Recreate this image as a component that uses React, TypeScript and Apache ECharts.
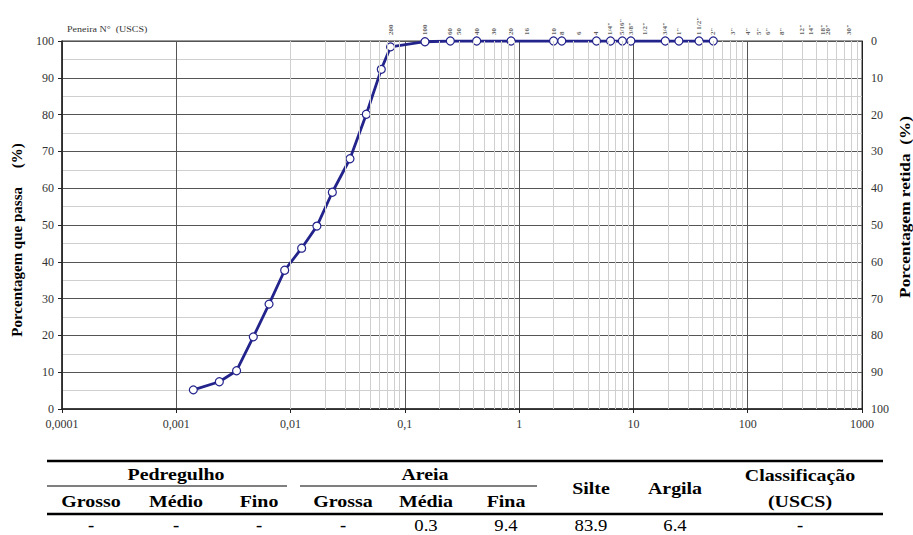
import React, { useEffect, useRef } from "react";
import * as echarts from "echarts";

// Grain-size curve (diameter in mm, % passing)
const grainSize = [0.00141, 0.00238, 0.00337, 0.00472, 0.00648, 0.00888, 0.0125, 0.017, 0.0232, 0.0331, 0.046, 0.0622, 0.075, 0.15, 0.25, 0.425, 0.85, 2.0, 2.36, 4.75, 6.3, 8.0, 9.5, 19, 25, 37.5, 50];
const percentPassing = [5.2, 7.4, 10.4, 19.6, 28.5, 37.7, 43.7, 49.7, 58.9, 68.0, 80.1, 92.3, 98.4, 99.8, 100, 100, 100, 100, 100, 100, 100, 100, 100, 100, 100, 100, 100];

// Sieve openings (mm) and labels shown on top
const sieveSizes = [0.075, 0.15, 0.25, 0.3, 0.425, 0.6, 0.85, 1.18, 2.0, 2.36, 3.35, 4.75, 6.3, 8.0, 9.5, 12.5, 19, 25, 37.5, 50, 75, 100, 125, 150, 200, 300, 356, 457, 508, 762];
const sieveLabels = ["200", "100", "60", "50", "40", "30", "20", "16", "10", "8", "6", "4", "1/4\"", "5/16\"", "3/8\"", "1/2\"", "3/4\"", "1\"", "1 1/2\"", "2\"", "3\"", "4\"", "5\"", "6\"", "8\"", "12\"", "14\"", "18\"", "20\"", "30\""];

// Table
const gravelHeader = "Pedregulho";
const sandHeader = "Areia";
const gravelSubs = ["Grosso", "Médio", "Fino"];
const sandSubs = ["Grossa", "Média", "Fina"];
const otherHeaders = ["Silte", "Argila"];
const classHeader = ["Classificação", "(USCS)"];
const tableValues = ["-", "-", "-", "-", "0.3", "9.4", "83.9", "6.4", "-"];

const SERIF = "Liberation Serif, Times New Roman, serif";

function fmtLog(v: number): string {
  const e = Math.round(Math.log10(v));
  if (e < 0) return "0," + "0".repeat(-e - 1) + "1";
  return String(Math.pow(10, e));
}

export default function App() {
  const ref = useRef<HTMLDivElement>(null);
  useEffect(() => {
    if (!ref.current) return;
    const chart = echarts.init(ref.current, undefined, { renderer: "svg" });

    const minorX: { xAxis: number }[] = [];
    for (let k = -4; k <= 2; k++) {
      for (let m = 2; m <= 9; m++) minorX.push({ xAxis: m * Math.pow(10, k) });
    }

    const colX = [91, 176, 259, 343, 426, 506, 591, 675, 800];
    const txt = (text: string, x: number, y: number, weight: string, size = 17) => ({
      type: "text",
      x,
      y,
      scaleX: 1.17,
      style: { text, fontFamily: SERIF, fontSize: size, fontWeight: weight, fill: "#000", align: "center", verticalAlign: "middle" },
    });
    const ln = (x1: number, y1: number, x2: number, y2: number, w: number, c: string) => ({
      type: "line",
      shape: { x1, y1, x2, y2 },
      style: { stroke: c, lineWidth: w },
    });

    const graphics: any[] = [
      {
        type: "text",
        x: 67,
        y: 29,
        scaleX: 1.25,
        style: { text: "Peneira N°  (USCS)", fontFamily: SERIF, fontSize: 8, fill: "#333", align: "left", verticalAlign: "middle" },
      },
      {
        type: "text",
        x: 17,
        y: 240,
        rotation: Math.PI / 2,
        style: { text: "Porcentagem que passa     (%)", fontFamily: SERIF, fontSize: 15, fontWeight: "bold", fill: "#000", align: "center", verticalAlign: "middle" },
      },
      {
        type: "text",
        x: 905,
        y: 207,
        rotation: Math.PI / 2,
        scaleX: 1.15,
        style: { text: "Porcentagem retida  (%)", fontFamily: SERIF, fontSize: 15, fontWeight: "bold", fill: "#000", align: "center", verticalAlign: "middle" },
      },
      ln(47, 461, 883, 461, 2.5, "#000"),
      ln(47, 486, 287, 486, 1.5, "#555"),
      ln(300, 486, 537, 486, 1.5, "#555"),
      ln(47, 514, 883, 514, 2.5, "#000"),
      txt(gravelHeader, 176, 474, "bold"),
      txt(sandHeader, 425, 474, "bold"),
      txt(otherHeaders[0], 591, 488, "bold"),
      txt(otherHeaders[1], 675, 488, "bold"),
      txt(classHeader[0], 800, 475, "bold"),
      txt(classHeader[1], 800, 501, "bold"),
    ];
    gravelSubs.forEach((s, i) => graphics.push(txt(s, colX[i], 501, "bold")));
    sandSubs.forEach((s, i) => graphics.push(txt(s, colX[i + 3], 501, "bold")));
    tableValues.forEach((v, i) => graphics.push(txt(v, colX[i], 525, v === "-" ? "bold" : "normal", 16)));

    const axisLabelStyle = { fontFamily: SERIF, fontSize: 12, color: "#333" };

    chart.setOption({
      animation: false,
      grid: { left: 62, right: 51, top: 41, bottom: 126, show: true, borderColor: "#333", borderWidth: 1, backgroundColor: "transparent" },
      xAxis: {
        type: "log",
        logBase: 10,
        min: 0.0001,
        max: 1000,
        splitNumber: 7,
        axisLine: { show: true, onZero: false, lineStyle: { color: "#222", width: 1.5 } },
        axisTick: { show: true, length: 4, lineStyle: { color: "#222" } },
        axisLabel: { ...axisLabelStyle, margin: 9, formatter: (v: number) => fmtLog(v) },
        splitLine: { show: true, lineStyle: { color: "#555", width: 1 } },
      },
      yAxis: [
        {
          type: "value",
          min: 0,
          max: 100,
          interval: 10,
          axisLine: { show: true, lineStyle: { color: "#222", width: 1.5 } },
          axisTick: { show: true, length: 4, lineStyle: { color: "#222" } },
          minorTick: { show: false, splitNumber: 2 },
          minorSplitLine: { show: true, lineStyle: { color: "#cfcfcf", width: 1 } },
          splitLine: { show: true, lineStyle: { color: "#555", width: 1 } },
          axisLabel: { ...axisLabelStyle, margin: 8 },
        },
        {
          type: "value",
          min: 0,
          max: 100,
          interval: 10,
          inverse: true,
          position: "right",
          axisLine: { show: true, lineStyle: { color: "#222", width: 1 } },
          axisTick: { show: false },
          splitLine: { show: false },
          axisLabel: { ...axisLabelStyle, margin: 9 },
        },
      ],
      series: [
        {
          type: "scatter",
          z: 1,
          symbolSize: 0,
          silent: true,
          clip: false,
          data: sieveSizes.map((s, i) => [s, 100, sieveLabels[i]]),
          label: {
            show: true,
            position: "top",
            distance: 6,
            rotate: 90,
            align: "left",
            verticalAlign: "middle",
            fontFamily: SERIF,
            fontSize: 7,
            fontWeight: "bold",
            color: "#333",
            formatter: (p: any) => p.data[2],
          },
          markLine: {
            silent: true,
            symbol: "none",
            label: { show: false },
            lineStyle: { color: "#cfcfcf", type: "solid", width: 1 },
            data: minorX,
          },
        },
        {
          type: "line",
          z: 3,
          data: grainSize.map((g, i) => [g, percentPassing[i]]),
          symbol: "circle",
          symbolSize: 8,
          showAllSymbol: true,
          lineStyle: { color: "#23238c", width: 2.8 },
          itemStyle: { color: "#ffffff", borderColor: "#23238c", borderWidth: 1.2 },
        },
      ],
      graphic: graphics,
    });
    return () => chart.dispose();
  }, []);
  return <div ref={ref} style={{ position: "fixed", left: 0, top: 0, width: 913, height: 535, background: "#fff" }} />;
}
